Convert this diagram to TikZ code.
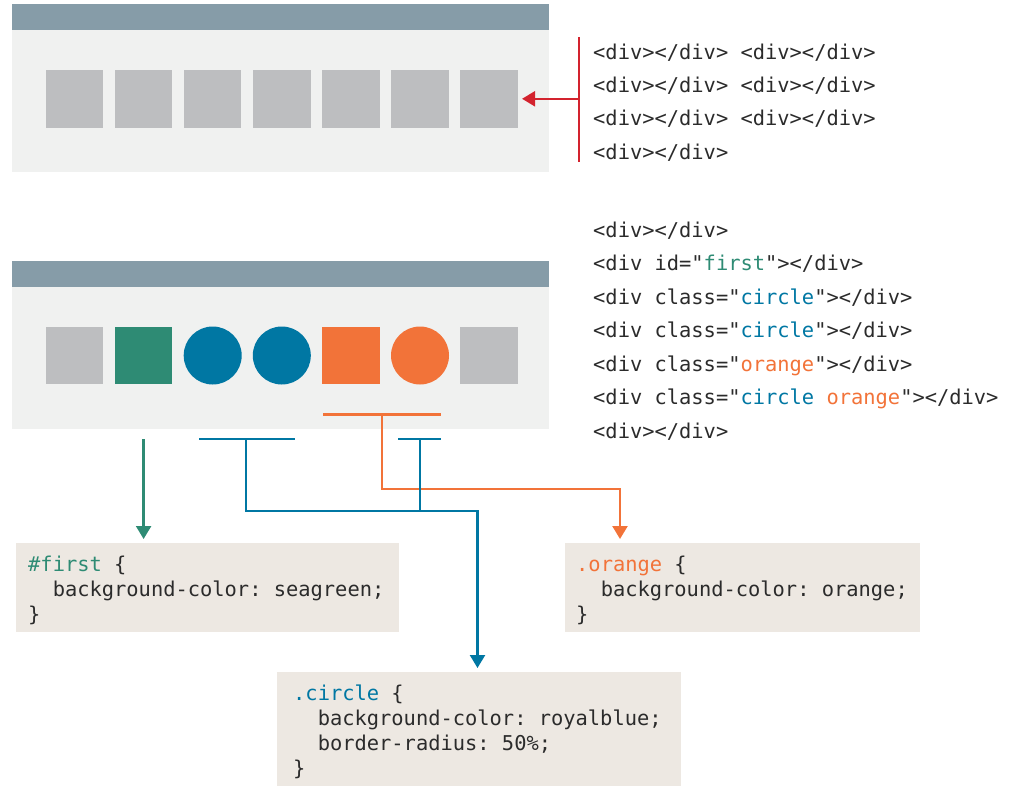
\documentclass[tikz,border=0pt]{standalone}
\usepackage{fontspec}
\setmonofont{DejaVu Sans Mono}
\usetikzlibrary{arrows.meta}

\definecolor{barcol}{HTML}{869CA8}
\definecolor{pagecol}{HTML}{F0F1F0}
\definecolor{plaincol}{HTML}{BDBEC0}
\definecolor{codebg}{HTML}{EDE8E2}
\definecolor{redcol}{HTML}{D3232E}
\definecolor{greencol}{HTML}{2E8B74}
\definecolor{bluecol}{HTML}{0077A3}
\definecolor{orangecol}{HTML}{F27339}
\definecolor{ink}{HTML}{2B2B2B}

\tikzset{
  winbar/.style={fill=barcol, draw=none, inner sep=0pt, anchor=north west, minimum width=537pt, minimum height=26pt},
  winbody/.style={fill=pagecol, draw=none, inner sep=0pt, anchor=north west, minimum width=537pt},
  boxshape/.style={rectangle, draw=none, inner sep=0pt, minimum size=57.5pt},
  roundshape/.style={circle, draw=none, inner sep=0pt, minimum size=58pt},
  codebox/.style={fill=codebg, draw=none, inner sep=0pt, anchor=north west},
  code/.style={font=\ttfamily\fontsize{20.4}{24}\selectfont, text=ink, inner sep=0pt, anchor=base west},
  link/.style={line width=2.3pt},
  tip/.style={-{Triangle[length=13pt,width=15pt]}, shorten >=4pt}
}

\begin{document}
\begin{tikzpicture}[x=1pt,y=-1pt]
\useasboundingbox (0,0) rectangle (1019,787);

% ---------- upper window: seven plain divs ----------
\node[winbody, minimum height=142pt] (body1) at (12,30) {};
\node[winbar] (bar1) at (12,4) {};
\foreach \i/\x in {1/74.5,2/143.6,3/212.7,4/281.8,5/350.9,6/420.0,7/489.1}
  \node[boxshape, fill=plaincol] (t\i) at (\x,98.8) {};

\coordinate (rtop) at (579,37);
\coordinate (rbot) at (579,162);
\coordinate (rmid) at (579,98.8);
\draw[link, redcol] (rtop) -- (rbot);
\draw[link, redcol, tip] (rmid) -- (t7.east);

\node[code] (a1) at (593,59)    {<div></div> <div></div>};
\node[code] (a2) at (593,92.3)  {<div></div> <div></div>};
\node[code] (a3) at (593,125.7) {<div></div> <div></div>};
\node[code] (a4) at (593,159)   {<div></div>};

% ---------- lower window: styled divs ----------
\node[winbody, minimum height=142pt] (body2) at (12,287) {};
\node[winbar] (bar2) at (12,261) {};
\node[boxshape, fill=plaincol]   (s1) at (74.5,355.5) {};
\node[boxshape, fill=greencol]   (s2) at (143.6,355.5) {};
\node[roundshape, fill=bluecol]  (s3) at (212.7,355.5) {};
\node[roundshape, fill=bluecol]  (s4) at (281.8,355.5) {};
\node[boxshape, fill=orangecol]  (s5) at (350.9,355.5) {};
\node[roundshape, fill=orangecol](s6) at (420.0,355.5) {};
\node[boxshape, fill=plaincol]   (s7) at (489.1,355.5) {};

\node[code] (b1) at (593,237)   {<div></div>};
\node[code] (b2) at (593,270.5) {<div id="\textcolor{greencol}{first}"></div>};
\node[code] (b3) at (593,304)   {<div class="\textcolor{bluecol}{circle}"></div>};
\node[code] (b4) at (593,337.5) {<div class="\textcolor{bluecol}{circle}"></div>};
\node[code] (b5) at (593,371)   {<div class="\textcolor{orangecol}{orange}"></div>};
\node[code] (b6) at (593,404.5) {<div class="\textcolor{bluecol}{circle} \textcolor{orangecol}{orange}"></div>};
\node[code] (b7) at (593,438)   {<div></div>};

% ---------- CSS rule boxes ----------
\node[codebox, minimum width=383pt, minimum height=89pt] (firstbox) at (16,543) {};
\node[code] (f1) at (28,571) {\textcolor{greencol}{\#first} \{};
\node[code] (f2) at (28,596) {\phantom{xx}background-color: seagreen;};
\node[code] (f3) at (28,621) {\}};

\node[codebox, minimum width=355pt, minimum height=89pt] (orangebox) at (565,543) {};
\node[code] (o1) at (576,571) {\textcolor{orangecol}{.orange} \{};
\node[code] (o2) at (576,596) {\phantom{xx}background-color: orange;};
\node[code] (o3) at (576,621) {\}};

\node[codebox, minimum width=404pt, minimum height=114pt] (circlebox) at (277,672) {};
\node[code] (c1) at (293,700) {\textcolor{bluecol}{.circle} \{};
\node[code] (c2) at (293,725) {\phantom{xx}background-color: royalblue;};
\node[code] (c3) at (293,750) {\phantom{xx}border-radius: 50\%;};
\node[code] (c4) at (293,775) {\}};

% ---------- selector connectors ----------
% #first
\coordinate (gtop) at (143.6,439);
\draw[link, greencol, tip] (gtop) -- (gtop |- firstbox.north);

% .orange
\coordinate (obarL) at (323,414.5);
\coordinate (obarR) at (441,414.5);
\coordinate (ostem) at (382,414.5);
\coordinate (ojoin) at (382,489);
\coordinate (otip)  at (620,543);
\draw[link, orangecol] (obarL) -- (obarR);
\draw[link, orangecol, tip] (ostem) -- (ojoin) -| (otip);

% .circle
\coordinate (cbarAL) at (199,439);
\coordinate (cbarAR) at (295,439);
\coordinate (cstemA) at (246,439);
\coordinate (cbarBL) at (398,439);
\coordinate (cbarBR) at (441,439);
\coordinate (cstemB) at (420,439);
\coordinate (cjoinA) at (246,511);
\coordinate (cjoinB) at (420,511);
\coordinate (ctip)   at (477.5,672);
\draw[link, bluecol] (cbarAL) -- (cbarAR);
\draw[link, bluecol] (cbarBL) -- (cbarBR);
\draw[link, bluecol] (cstemB) -- (cjoinB);
\draw[link, bluecol, tip] (cstemA) -- (cjoinA) -| (ctip);
\end{tikzpicture}
\end{document}
